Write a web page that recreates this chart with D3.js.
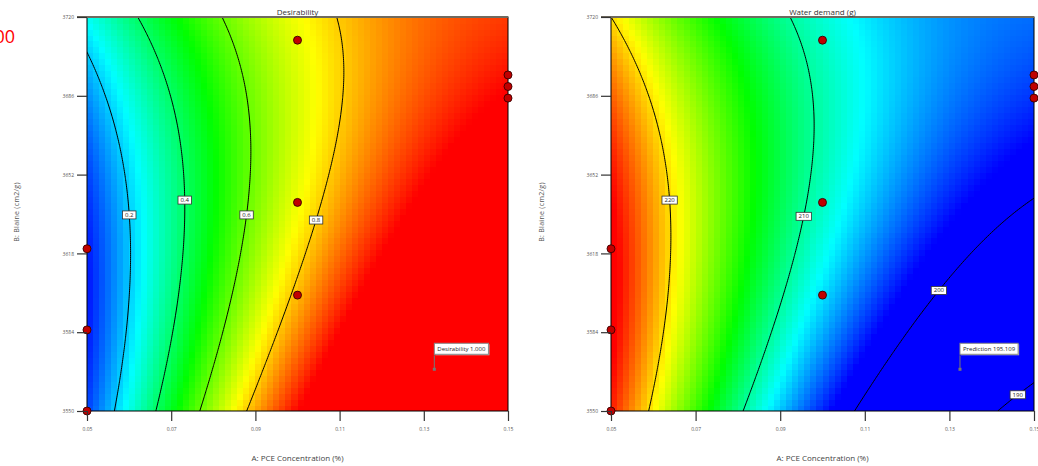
<!DOCTYPE html>
<html><head><meta charset="utf-8">
<script src="https://cdn.jsdelivr.net/npm/d3@7"></script>
<style>body{margin:0;background:#fff}svg{display:block}text{font-family:"Open Sans",sans-serif}</style>
</head><body><svg id="c" width="1038" height="466"></svg>
<script>
// ---------------- data ----------------
const xTicks = [0.05, 0.07, 0.09, 0.11, 0.13, 0.15];
const yTicks = [3550, 3584, 3618, 3652, 3686, 3720];
const designA = [0.10, 0.10, 0.10, 0.15, 0.15, 0.15, 0.05, 0.05, 0.05];
const designB = [3710, 3640, 3600, 3695, 3690, 3685, 3620, 3585, 3550];
// fitted quadratic models in coded units: [const, a, b, ab, a^2, b^2]
const desirabilityCoef = [0.746, 0.571, -0.13, -0.228, -0.14, 0.125];
const waterCoef = [208.85, -12.99, 3.025, 5.21, 3.5, -3.15];
const desirabilityLevels = [0.2, 0.4, 0.6, 0.8];
const desirabilityLabelB = [3634.6, 3641, 3634.6, 3632.4];
const waterLevels = [190, 200, 210, 220];
const waterLabelB = [3557, 3602, 3634, 3641];
const flagPoint = [0.1325, 3568];
const panelTitles = ["Desirability", "Water demand  (g)"];
const flagTexts = ["Desirability  1.000", "Prediction  195.109"];
const desirabilityRange = [0, 1];
const waterRange = [202, 225];
const levelFormats = [".1f", ".0f"];
const sideNote = "1.000";

// ---------------- drawing ----------------
const svg = d3.select("#c");
const Adom = [0.05, 0.15], Bdom = [3550, 3720];
const Y0 = 17, Y1 = 411;

function model(c, A, B) {
  const a = (A - 0.1) / 0.05, b = (B - 3635) / 85;
  return c[0] + c[1]*a + c[2]*b + c[3]*a*b + c[4]*a*a + c[5]*b*b;
}

svg.append("text").attr("x", 15).attr("y", 43).attr("text-anchor", "end")
  .attr("font-size", 18).attr("fill", "#ff0000").text(sideNote);

const panels = [
  {x0: 87, x1: 508, coef: desirabilityCoef, levels: desirabilityLevels, labelB: desirabilityLabelB,
   range: desirabilityRange, clampVal: [0, 1], title: panelTitles[0], flag: flagTexts[0], fmt: levelFormats[0], yt: 16},
  {x0: 611, x1: 1034, coef: waterCoef, levels: waterLevels, labelB: waterLabelB,
   range: waterRange, clampVal: null, title: panelTitles[1], flag: flagTexts[1], fmt: levelFormats[1], yt: 541}
];

panels.forEach((p, pi) => {
  const g = svg.append("g");
  const x = d3.scaleLinear().domain(Adom).range([p.x0, p.x1]);
  const y = d3.scaleLinear().domain(Bdom).range([Y1, Y0]);
  const f = (A, B) => {
    let v = model(p.coef, A, B);
    return v;
  };
  const cv = v => p.clampVal ? Math.max(p.clampVal[0], Math.min(p.clampVal[1], v)) : v;
  const r0 = p.range[0], r1 = p.range[1];
  const color = d3.scaleLinear()
    .domain([0, 1, 2, 3, 4].map(i => r0 + i * (r1 - r0) / 4))
    .range(["#0000ff", "#00ffff", "#00ff00", "#ffff00", "#ff0000"]).clamp(true);

  const clipId = "clip" + pi;
  svg.append("clipPath").attr("id", clipId).append("rect")
    .attr("x", p.x0).attr("y", Y0).attr("width", p.x1 - p.x0).attr("height", Y1 - Y0);

  // colour cells
  const NX = 70, NY = 66;
  const cells = [];
  for (let j = 0; j < NY; j++) for (let i = 0; i < NX; i++) {
    const Aa = Adom[0] + i / NX * (Adom[1] - Adom[0]);
    const Ab = Adom[0] + (i + 1) / NX * (Adom[1] - Adom[0]);
    const Ba = Bdom[0] + j / NY * (Bdom[1] - Bdom[0]);
    const Bb = Bdom[0] + (j + 1) / NY * (Bdom[1] - Bdom[0]);
    cells.push({Aa, Ab, Ba, Bb, v: cv(f((Aa + Ab) / 2, (Ba + Bb) / 2))});
  }
  g.append("g").attr("clip-path", `url(#${clipId})`).selectAll("rect").data(cells).join("rect")
    .attr("x", d => x(d.Aa)).attr("y", d => y(d.Bb))
    .attr("width", d => x(d.Ab) - x(d.Aa) + 0.6).attr("height", d => y(d.Ba) - y(d.Bb) + 0.6)
    .attr("fill", d => color(d.v)).attr("shape-rendering", "crispEdges");

  // contour lines
  const n = 220, m = 200;
  const vals = new Array(n * m);
  for (let j = 0; j < m; j++) for (let i = 0; i < n; i++) {
    const A = Adom[0] + i / (n - 1) * (Adom[1] - Adom[0]);
    const B = Bdom[1] - j / (m - 1) * (Bdom[1] - Bdom[0]);
    vals[i + j * n] = f(A, B);
  }
  const cont = d3.contours().size([n, m]).thresholds(p.levels)(vals);
  const proj = d3.geoTransform({
    point(px, py) {
      this.stream.point(x(Adom[0] + (px - 0.5) / (n - 1) * (Adom[1] - Adom[0])),
                        y(Bdom[1] - (py - 0.5) / (m - 1) * (Bdom[1] - Bdom[0])));
    }
  });
  g.append("g").attr("clip-path", `url(#${clipId})`).selectAll("path").data(cont).join("path")
    .attr("d", d3.geoPath(proj)).attr("fill", "none").attr("stroke", "#000").attr("stroke-width", 1);

  // frame
  g.append("rect").attr("x", p.x0).attr("y", Y0).attr("width", p.x1 - p.x0).attr("height", Y1 - Y0)
    .attr("fill", "none").attr("stroke", "#000").attr("stroke-width", 1);
  g.append("line").attr("x1", p.x0 - 10).attr("x2", p.x1).attr("y1", Y0).attr("y2", Y0)
    .attr("stroke", "#6f6a5f").attr("stroke-width", 2);

  // contour labels
  p.levels.forEach((lv, k) => {
    const B = p.labelB[k];
    let lo = Adom[0], hi = Adom[1];
    const inc = f(hi, B) > f(lo, B);
    for (let it = 0; it < 50; it++) {
      const mid = (lo + hi) / 2;
      const v = f(mid, B);
      if ((v < lv) === inc) lo = mid; else hi = mid;
    }
    const A = (lo + hi) / 2;
    if (A <= Adom[0] + 1e-6 || A >= Adom[1] - 1e-6) return;
    let cx = x(A), cy = y(B);
    const lg = g.append("g");
    const t = lg.append("text").attr("x", cx).attr("y", cy).attr("text-anchor", "middle")
      .attr("dominant-baseline", "central").attr("font-size", 6).attr("fill", "#222")
      .text(d3.format(p.fmt)(lv));
    const w = t.node().getComputedTextLength() + 5;
    let bx = cx - w / 2;
    if (bx + w > p.x1 - 1) { bx = p.x1 - 1 - w; t.attr("x", bx + w / 2); }
    lg.insert("rect", "text").attr("x", bx).attr("y", cy - 4).attr("width", w).attr("height", 8)
      .attr("fill", "#fff").attr("stroke", "#333").attr("stroke-width", 0.8);
  });

  // design points
  g.append("g").selectAll("circle").data(designA.map((a, i) => [a, designB[i]])).join("circle")
    .attr("cx", d => x(d[0])).attr("cy", d => y(d[1])).attr("r", 4)
    .attr("fill", "#c00000").attr("stroke", "#3a0000").attr("stroke-width", 0.9);

  // prediction flag
  const fx = x(flagPoint[0]), fy = y(flagPoint[1]);
  const fg = g.append("g");
  fg.append("line").attr("x1", fx).attr("x2", fx).attr("y1", fy).attr("y2", fy - 14)
    .attr("stroke", "#777").attr("stroke-width", 1);
  fg.append("rect").attr("x", fx - 1.5).attr("y", fy - 1.5).attr("width", 3).attr("height", 3).attr("fill", "#777");
  const ft = fg.append("text").attr("x", fx + 3).attr("y", fy - 20).attr("dominant-baseline", "central")
    .attr("font-size", 6).attr("fill", "#222").text(p.flag);
  const fw = ft.node().getComputedTextLength() + 6;
  fg.insert("rect", "text").attr("x", fx + 1).attr("y", fy - 25).attr("width", fw).attr("height", 11)
    .attr("fill", "#bbb");
  fg.insert("rect", "text").attr("x", fx).attr("y", fy - 26).attr("width", fw).attr("height", 11)
    .attr("fill", "#fff").attr("stroke", "#888").attr("stroke-width", 1);

  // axes
  const ax = g.append("g").attr("transform", `translate(0,${Y1})`)
    .call(d3.axisBottom(x).tickValues(xTicks).tickFormat(d3.format(".2f")).tickSize(10).tickPadding(6));
  const ay = g.append("g").attr("transform", `translate(${p.x0},0)`)
    .call(d3.axisLeft(y).tickValues(yTicks).tickFormat(d3.format("d")).tickSize(10).tickPadding(3));
  [ax, ay].forEach(a => {
    a.select(".domain").remove();
    a.selectAll(".tick line").attr("stroke", "#333").attr("stroke-width", 1.2);
    a.selectAll(".tick text").attr("font-size", 5).attr("fill", "#555").attr("font-family", "Open Sans, sans-serif");
  });

  // titles
  const cxm = (p.x0 + p.x1) / 2;
  g.append("text").attr("x", cxm).attr("y", 14.5).attr("text-anchor", "middle")
    .attr("font-size", 8).attr("fill", "#333").text(p.title);
  g.append("text").attr("x", cxm).attr("y", 460.5).attr("text-anchor", "middle")
    .attr("font-size", 8).attr("fill", "#444").text("A: PCE Concentration  (%)");
  g.append("text").attr("transform", `translate(${p.yt},212) rotate(-90)`).attr("text-anchor", "middle")
    .attr("dominant-baseline", "central").attr("font-size", 7).attr("letter-spacing", 0.3)
    .attr("fill", "#555").text("B: Blaine  (cm2/g)");
});
</script></body></html>
